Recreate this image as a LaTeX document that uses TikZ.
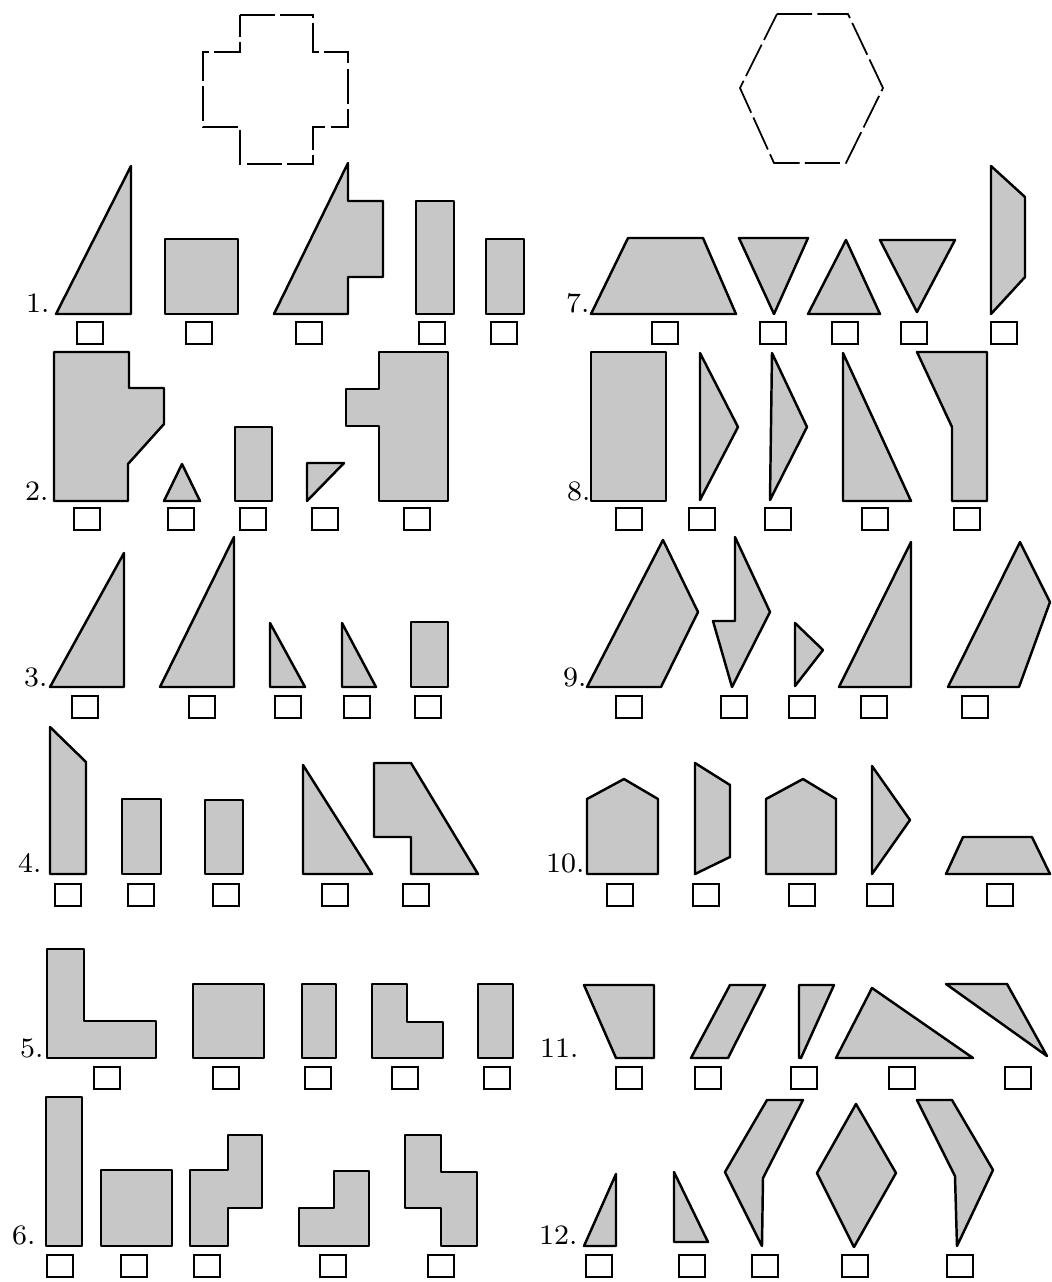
\documentclass[tikz,border=0pt]{standalone}
\begin{document}
\begin{tikzpicture}[x=0.1mm, y=-0.1mm,
  piece/.style={draw, fill=black!22, line width=0.7pt, line join=round},
  outline/.style={draw, line width=0.5pt, dash pattern=on 10pt off 1.5pt},
  ansbox/.style={draw, line width=0.7pt},
  num/.style={anchor=base east, font=\footnotesize, inner sep=0pt}]
\useasboundingbox (0,0) rectangle (1052,1282);
% Vorlagen
\draw[outline] (240,15) -- (313,15) -- (313,52) -- (348,52) -- (348,127) -- (313,127) -- (313,164) -- (240,164) -- (240,127) -- (203,127) -- (203,52) -- (240,52) -- cycle;
\draw[outline] (777,14) -- (848,14) -- (883,88) -- (846,163) -- (774,163) -- (740,88) -- cycle;
% Nummern
\node[num] (n1) at (50,312) {1.};
\node[num] (n7) at (590,312) {7.};
\node[num] (n2) at (49,500) {2.};
\node[num] (n8) at (591,500) {8.};
\node[num] (n3) at (48,686) {3.};
\node[num] (n9) at (587,686) {9.};
\node[num] (n4) at (42,872) {4.};
\node[num] (n10) at (585,872) {10.};
\node[num] (n5) at (44,1057) {5.};
\node[num] (n11) at (579,1057) {11.};
\node[num] (n6) at (36,1244) {6.};
\node[num] (n12) at (578,1244) {12.};
% Aufgabe 1
\draw[piece] (56,314) -- (131,314) -- (131,166) -- cycle;
\draw[piece] (165,239) rectangle (238,314);
\draw[piece] (274,314) -- (348,163) -- (348,201) -- (383,201) -- (383,277) -- (348,277) -- (348,314) -- cycle;
\draw[piece] (416,201) rectangle (454,314);
\draw[piece] (486,239) rectangle (524,314);
% Aufgabe 7
\draw[piece] (591,314) -- (628,238) -- (703,238) -- (736,314) -- cycle;
\draw[piece] (739,238) -- (808,238) -- (774,314) -- cycle;
\draw[piece] (808,314) -- (846,240) -- (880,314) -- cycle;
\draw[piece] (880,240) -- (955,240) -- (917,312) -- cycle;
\draw[piece] (991,166) -- (1025,197) -- (1025,277) -- (991,314) -- cycle;
% Aufgabe 2
\draw[piece] (54,352) -- (129,352) -- (129,388) -- (164,388) -- (164,424) -- (128,464) -- (128,501) -- (54,501) -- cycle;
\draw[piece] (164,501) -- (182,464) -- (200,501) -- cycle;
\draw[piece] (235,427) rectangle (272,501);
\draw[piece] (307,463) -- (344,463) -- (307,501) -- cycle;
\draw[piece] (379,352) -- (448,352) -- (448,501) -- (379,501) -- (379,426) -- (346,426) -- (346,389) -- (379,389) -- cycle;
% Aufgabe 8
\draw[piece] (591,352) rectangle (666,501);
\draw[piece] (700,353) -- (738,427) -- (700,500) -- cycle;
\draw[piece] (772,353) -- (807,427) -- (770,500) -- cycle;
\draw[piece] (843,353) -- (911,501) -- (843,501) -- cycle;
\draw[piece] (917,352) -- (987,352) -- (987,501) -- (952,501) -- (952,427) -- cycle;
% Aufgabe 3
\draw[piece] (50,687) -- (124,553) -- (124,687) -- cycle;
\draw[piece] (160,687) -- (234,537) -- (234,687) -- cycle;
\draw[piece] (270,623) -- (305,687) -- (270,687) -- cycle;
\draw[piece] (342,623) -- (376,687) -- (342,687) -- cycle;
\draw[piece] (411,622) rectangle (448,687);
% Aufgabe 9
\draw[piece] (663,540) -- (698,612) -- (661,687) -- (587,687) -- cycle;
\draw[piece] (735,537) -- (770,612) -- (732,687) -- (713,621) -- (735,621) -- cycle;
\draw[piece] (795,623) -- (823,650) -- (795,686) -- cycle;
\draw[piece] (839,687) -- (911,542) -- (911,687) -- cycle;
\draw[piece] (1020,542) -- (1050,602) -- (1019,687) -- (948,687) -- cycle;
% Aufgabe 4
\draw[piece] (50,727) -- (86,762) -- (86,874) -- (50,874) -- cycle;
\draw[piece] (122,799) rectangle (161,874);
\draw[piece] (205,800) rectangle (243,874);
\draw[piece] (303,765) -- (372,874) -- (303,874) -- cycle;
\draw[piece] (374,763) -- (411,763) -- (478,874) -- (411,874) -- (411,837) -- (374,837) -- cycle;
% Aufgabe 10
\draw[piece] (587,874) -- (587,799) -- (624,779) -- (658,799) -- (658,874) -- cycle;
\draw[piece] (695,763) -- (730,785) -- (730,857) -- (695,874) -- cycle;
\draw[piece] (766,874) -- (766,799) -- (803,779) -- (836,799) -- (836,874) -- cycle;
\draw[piece] (872,766) -- (910,820) -- (872,874) -- cycle;
\draw[piece] (963,837) -- (1032,837) -- (1050,874) -- (946,874) -- cycle;
% Aufgabe 5
\draw[piece] (47,949) -- (84,949) -- (84,1021) -- (156,1021) -- (156,1058) -- (47,1058) -- cycle;
\draw[piece] (193,984) rectangle (264,1058);
\draw[piece] (302,984) rectangle (336,1058);
\draw[piece] (372,984) -- (407,984) -- (407,1022) -- (443,1022) -- (443,1058) -- (372,1058) -- cycle;
\draw[piece] (478,984) rectangle (513,1058);
% Aufgabe 11
\draw[piece] (584,985) -- (654,985) -- (654,1058) -- (616,1058) -- cycle;
\draw[piece] (730,985) -- (765,985) -- (728,1058) -- (691,1058) -- cycle;
\draw[piece] (799,985) -- (834,985) -- (801,1058) -- (799,1058) -- cycle;
\draw[piece] (836,1058) -- (872,988) -- (973,1058) -- cycle;
\draw[piece] (946,984) -- (1007,984) -- (1047,1056) -- cycle;
% Aufgabe 6
\draw[piece] (46,1097) rectangle (82,1246);
\draw[piece] (101,1170) rectangle (172,1246);
\draw[piece] (190,1170) -- (228,1170) -- (228,1135) -- (262,1135) -- (262,1208) -- (228,1208) -- (228,1246) -- (190,1246) -- cycle;
\draw[piece] (299,1208) -- (334,1208) -- (334,1171) -- (369,1171) -- (369,1246) -- (299,1246) -- cycle;
\draw[piece] (405,1135) -- (441,1135) -- (441,1172) -- (477,1172) -- (477,1246) -- (441,1246) -- (441,1208) -- (405,1208) -- cycle;
% Aufgabe 12
\draw[piece] (584,1246) -- (616,1174) -- (616,1246) -- cycle;
\draw[piece] (674,1172) -- (708,1242) -- (674,1242) -- cycle;
\draw[piece] (767,1100) -- (803,1100) -- (763,1178) -- (762,1246) -- (725,1172) -- cycle;
\draw[piece] (856,1104) -- (896,1173) -- (854,1247) -- (817,1173) -- cycle;
\draw[piece] (917,1100) -- (952,1100) -- (993,1170) -- (957,1246) -- (955,1176) -- cycle;
% Ankreuzkaestchen
\foreach \by/\bxs in {322/{77,186,296,419,491,652,760,832,901,991},
  508/{74,168,240,312,404,616,689,765,862,954},
  696/{72,189,275,344,415,616,721,789,861,962},
  884/{55,128,213,322,403,607,693,789,867,987},
  1067/{94,213,305,392,484,616,695,791,889,1005},
  1255/{47,121,194,320,428,586,679,752,842,947}}
  \foreach \bx in \bxs
    \draw[ansbox] (\bx,\by) rectangle ++(26,22);
\end{tikzpicture}
\end{document}
